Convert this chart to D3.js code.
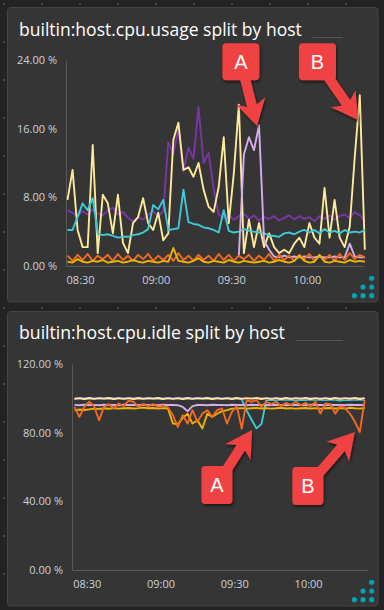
<!DOCTYPE html>
<html>
<head>
<meta charset="utf-8">
<script src="https://cdn.jsdelivr.net/npm/d3@7"></script>
<style>
  body { margin: 0; background: #232323; }
  svg { display: block; }
  text { font-family: "Open Sans", sans-serif; }
</style>
</head>
<body>
<svg width="384" height="610"></svg>
<script>
// one sample every 2 minutes, 08:25 -> 10:23
var times = d3.range(60).map(i => new Date(2020, 0, 1, 8, 25 + 2 * i))

var usageTitle = "builtin:host.cpu.usage split by host"
var idleTitle = "builtin:host.cpu.idle split by host"
var usageTicks = [0, 8, 16, 24]
var idleTicks = [0, 40, 80, 120]

// host.cpu.usage (%)
var usagePurple = [6.5, 6.2, 5.8, 6.4, 6.0, 6.6, 6.1, 5.9, 6.5, 6.8, 6.0, 6.3, 5.6, 5.2, 5.7, 5.4, 6.0, 6.4, 5.8, 6.4,
                   14.4, 13.0, 16.0, 11.0, 13.8, 12.5, 18.5, 12.0, 13.2, 9.0,
                   6.0, 5.6, 5.9, 5.4, 5.8, 6.1, 5.5, 5.9, 5.3, 5.7, 5.5, 5.8, 5.3, 5.6, 5.9, 5.4, 5.8, 5.5, 5.7, 5.2,
                   5.8, 5.5, 5.9, 5.4, 5.8, 6.0, 5.6, 6.3, 5.9, 5.2]
var usageYellow = [7.7, 11.2, 4.2, 2.2, 2.2, 14.1, 1.5, 8.3, 7.3, 3.8, 8.3, 2.7, 1.5, 5.0, 5.7, 7.9, 5.0, 4.2, 6.2, 3.0,
                   3.8, 14.7, 16.7, 11.2, 11.5, 10.4, 12.0, 8.9, 6.9, 6.3, 9.2, 15.0, 5.0, 10.8, 18.8, 1.5, 5.4, 2.2, 5.0, 2.2,
                   3.8, 2.2, 1.5, 1.9, 1.5, 2.6, 3.3, 2.2, 5.0, 3.3, 2.6, 9.1, 3.3, 7.7, 3.3, 2.2, 4.6, 12.7, 19.9, 1.9]
var usageCyan = [4.2, 4.2, 5.7, 7.3, 6.5, 7.9, 3.8, 3.6, 3.7, 3.5, 3.3, 3.4, 3.4, 3.6, 3.7, 3.9, 4.3, 7.1, 6.6, 7.7,
                 4.2, 4.3, 4.4, 8.9, 5.1, 4.9, 4.8, 4.5, 4.4, 4.2, 3.9, 6.5, 4.1, 3.9, 4.0, 4.3, 4.1, 4.0, 3.9, 3.8,
                 3.6, 3.5, 3.4, 3.8, 3.9, 3.7, 4.0, 4.2, 3.9, 4.2, 3.8, 4.3, 3.9, 4.1, 3.8, 4.2, 3.9, 4.0, 3.9, 4.2]
var usageLavender = [null, null, null, null, null, null, null, null, null, null,
                     null, null, null, null, null, null, null, null, null, null,
                     null, null, null, null, null, null, null, null, null, null,
                     null, null, null, null, 1.2, 13.0, 15.0, 13.5, 16.4, 3.0,
                     1.9, 1.1, 1.0, 1.2, 1.0, 1.1, 1.0, 1.1, 1.0, 1.0, 1.1, 1.0, 1.0, 1.1, 1.0, 1.0, 2.6, 1.1, 1.0, 1.0]
var usageOrange = [1.2, 0.6, 1.3, 0.7, 1.4, 0.6, 1.2, 0.8, 1.3, 0.6, 1.4, 0.7, 1.2, 0.6, 1.3, 0.8, 1.4, 0.6, 1.2, 0.7,
                   1.3, 0.6, 1.5, 0.7, 1.2, 0.6, 1.3, 0.7, 1.2, 0.6, 1.4, 0.7, 1.3, 0.6, 1.2, 0.8, 1.3, 0.6, 1.2, 0.7,
                   1.4, 0.6, 1.3, 0.7, 1.2, 0.6, 1.3, 0.8, 1.4, 0.6, 1.2, 0.7, 1.3, 0.6, 1.4, 0.7, 1.5, 0.8, 1.3, 1.0]
var usageGold = [0.5, 0.4, 0.8, 0.5, 0.4, 0.6, 0.5, 0.7, 0.4, 0.5, 0.6, 0.4, 0.5, 0.7, 0.5, 0.4, 0.6, 0.5, 0.4, 0.6,
                 0.5, 2.1, 0.6, 0.5, 0.4, 0.6, 0.9, 0.5, 0.4, 0.6, 0.5, 0.4, 0.7, 0.5, 0.4, 0.6, 0.5, 0.4, 0.5, 0.6,
                 0.4, 0.5, 0.7, 0.5, 0.4, 0.6, 1.2, 0.6, 0.4, 0.5, 1.3, 0.5, 0.4, 0.6, 0.5, 0.4, 0.7, 0.5, 0.6, 0.5]

// host.cpu.idle (%)
var idleCyan = [99.9, 99.9, 99.9, 99.9, 99.9, 99.9, 99.9, 99.9, 99.9, 99.9,
                99.9, 99.9, 99.9, 99.9, 99.9, 99.9, 99.9, 99.9, 99.9, 99.9,
                99.9, 99.9, 99.9, 99.9, 99.9, 99.9, 99.9, 99.9, 99.9, 99.9,
                99.9, 99.9, 99.9, 99.9, 99.4, 93.0, 87.5, 82.5, 85.0, 99.0,
                99.2, 99.0, 99.3, 99.1, 99.2, 98.9, 99.2, 99.0, 99.3, 99.1, 99.2, 99.0, 99.3, 99.1, 98.7, 99.2, 99.0, 99.3, 99.1, 99.2]
var idleLavender = [96.2, 96.0, 96.3, 96.1, 96.2, 96.0, 96.3, 96.1, 96.2, 96.0, 96.3, 96.1, 96.2, 96.0, 96.3, 96.1, 96.2, 96.0, 96.3, 96.1,
                    96.2, 96.0, 95.0, 92.5, 95.5, 96.1, 96.2, 96.0, 96.3, 96.1, 96.2, 96.0, 96.3, 96.1, 96.2, 96.0, 96.3, 96.1, 96.2, 96.0,
                    96.3, 96.1, 96.2, 96.0, 96.3, 96.1, 96.2, 96.0, 96.3, 96.1, 96.2, 96.0, 96.3, 96.1, 96.2, 96.0, 96.3, 96.1, 96.2, 96.0]
var idlePurple = [100.2, 99.6, 100.3, 99.7, 100.2, 99.6, 100.1, 99.7, 100.3, 99.6, 100.2, 99.6, 100.3, 99.7, 100.2, 99.6, 100.1, 99.7, 100.3, 99.6,
                  100.2, 99.6, 100.3, 99.7, 100.2, 99.6, 100.1, 99.7, 100.3, 99.6, 100.2, 99.6, 100.3, 99.7, 100.2, 99.6, 100.1, 99.7, 100.3, 99.6,
                  100.2, 99.6, 100.3, 99.7, 100.2, 99.6, 100.1, 99.7, 100.3, 99.6, 100.2, 99.6, 100.3, 99.7, 100.2, 99.6, 100.1, 99.7, 100.3, 99.6]
var idleYellow = [99.7, 100.1, 99.6, 100.2, 99.7, 100.1, 99.8, 100.2, 99.6, 100.1, 99.7, 100.1, 99.6, 100.2, 99.7, 100.1, 99.8, 100.2, 99.6, 100.1,
                  99.7, 100.1, 99.6, 100.2, 99.7, 100.1, 99.8, 100.2, 99.6, 100.1, 99.7, 100.1, 99.6, 100.2, 99.7, 100.1, 99.8, 100.2, 99.6, 100.1,
                  99.7, 100.1, 99.6, 100.2, 99.7, 100.1, 99.8, 100.2, 99.6, 100.1, 99.7, 100.1, 99.6, 100.2, 99.7, 100.1, 99.8, 100.2, 99.6, 100.1]
var idleGold = [93.0, 93.5, 93.2, 93.6, 94.0, 93.8, 94.2, 93.9, 94.3, 94.0, 94.2, 94.4, 94.1, 94.3, 94.6, 94.2, 94.4, 94.0, 94.3, 94.1,
                85.3, 85.0, 88.5, 91.0, 85.3, 87.2, 82.4, 91.0, 89.2, 91.0, 92.5, 93.1, 94.0,
                94.1, 94.3, 94.0, 94.2, 94.4, 94.1, 94.3, 94.0, 94.2, 94.5, 94.1, 94.3, 94.0, 94.2, 94.4, 94.1, 94.3, 94.0, 94.2, 94.4,
                94.1, 94.3, 94.0, 94.5, 94.2, 94.0, 94.4]
var idleOrange = [95.0, 89.2, 95.0, 98.0, 95.4, 87.2, 95.0, 96.6, 94.1, 97.0, 95.4, 98.6, 98.0, 95.0, 96.6, 95.4, 96.6, 95.0, 95.8, 94.6,
                  90.2, 83.3, 90.2, 85.3, 93.1, 86.3, 91.1, 93.1, 89.2, 93.1, 94.1, 85.3, 92.1, 95.4, 82.4, 99.0, 98.0, 99.0, 95.0, 98.0,
                  96.6, 98.0, 95.4, 97.4, 96.0, 98.0, 96.0, 97.4, 95.4, 98.0, 91.1, 97.0, 96.6, 91.1, 95.4, 94.1, 91.1, 86.3, 80.4, 99.0]

// callouts: box centre and arrow tip in chart units
var usageNotes = [
    {label: "A", box: [new Date(2020, 0, 1, 9, 33, 48), 23.8], tip: [new Date(2020, 0, 1, 9, 40, 12), 16.3]},
    {label: "B", box: [new Date(2020, 0, 1, 10, 4, 12), 23.8], tip: [new Date(2020, 0, 1, 10, 20, 18), 17.0]}
]
var idleNotes = [
    {label: "A", box: [new Date(2020, 0, 1, 9, 22, 54), 49.5], tip: [new Date(2020, 0, 1, 9, 37, 12), 81.5]},
    {label: "B", box: [new Date(2020, 0, 1, 9, 59, 54), 48.9], tip: [new Date(2020, 0, 1, 10, 19, 0), 80.4]}
]

var colors = {
    purple: "#7a35a6", yellow: "#fde99a", cyan: "#3fc9d7",
    lavender: "#d3aeea", orange: "#f26a22", gold: "#f0b400"
}

var charts = [
    {
        title: usageTitle, ticks: usageTicks, notes: usageNotes,
        card: {y: 7.5, h: 294.5}, titleY: 36, titleW: 283,
        x: d3.scaleTime().domain([new Date(2020, 0, 1, 8, 24, 24), new Date(2020, 0, 1, 10, 22, 40)]).range([66, 364]),
        y: d3.scaleLinear().domain([0, 24]).range([266, 60]),
        boxW: 37, boxH: 37, iconY: 278.3,
        series: [
            {values: usagePurple, color: colors.purple},
            {values: usageYellow, color: colors.yellow},
            {values: usageCyan, color: colors.cyan},
            {values: usageLavender, color: colors.lavender},
            {values: usageOrange, color: colors.orange},
            {values: usageGold, color: colors.gold}
        ]
    },
    {
        title: idleTitle, ticks: idleTicks, notes: idleNotes,
        card: {y: 311.5, h: 294.5}, titleY: 339, titleW: 266,
        x: d3.scaleTime().domain([new Date(2020, 0, 1, 8, 24, 0), new Date(2020, 0, 1, 10, 24, 20)]).range([72, 368]),
        y: d3.scaleLinear().domain([0, 120]).range([570, 364]),
        boxW: 31, boxH: 38, iconY: 582.3,
        series: [
            {values: idleCyan, color: colors.cyan},
            {values: idleLavender, color: colors.lavender},
            {values: idlePurple, color: colors.purple},
            {values: idleYellow, color: colors.yellow},
            {values: idleGold, color: colors.gold},
            {values: idleOrange, color: colors.orange}
        ]
    }
]

var svg = d3.select("svg")

var defs = svg.append("defs")
var shadow = defs.append("filter").attr("id", "shadow")
                 .attr("x", "-30%").attr("y", "-30%").attr("width", "160%").attr("height", "160%")
shadow.append("feDropShadow").attr("dx", 1).attr("dy", 2).attr("stdDeviation", 1.5)
      .attr("flood-color", "#000").attr("flood-opacity", 0.55)

// dotted dashboard background
var bgDots = svg.append("g")
d3.range(4, 384, 38).forEach(gx => {
    d3.range(4, 610, 38).forEach(gy => {
        bgDots.append("rect").attr("x", gx - 1).attr("y", gy - 1)
              .attr("width", 2).attr("height", 2).attr("fill", "#474747")
    })
})

charts.forEach(c => {
    // tile
    svg.append("rect")
       .attr("x", 7.5).attr("y", c.card.y)
       .attr("width", 370.5).attr("height", c.card.h)
       .attr("rx", 3)
       .attr("fill", "#353535")
       .attr("stroke", "#444")

    var title = svg.append("text")
                   .attr("x", 19).attr("y", c.titleY)
                   .attr("fill", "#ffffff")
                   .style("font-size", "16px")
                   .text(c.title)
    // size the title so it spans the same width as in the dashboard
    var tw = title.node().getComputedTextLength()
    title.style("font-size", (16 * c.titleW / tw).toFixed(2) + "px")
    tw = title.node().getComputedTextLength()
    svg.append("line")
       .attr("x1", 19 + tw + 11).attr("x2", 343)
       .attr("y1", c.titleY + 1.5).attr("y2", c.titleY + 1.5)
       .attr("stroke", "#555").attr("stroke-width", 1)

    // axes
    var yAxis = d3.axisLeft(c.y)
                  .tickValues(c.ticks)
                  .tickSize(0).tickPadding(9)
                  .tickFormat(v => d3.format(".2f")(v) + " %")
    var gy = svg.append("g")
                .attr("transform", "translate(" + c.x.range()[0] + ",0)")
                .call(yAxis)

    var xAxis = d3.axisBottom(c.x)
                  .ticks(d3.timeMinute.every(30))
                  .tickSize(0).tickPadding(10)
                  .tickFormat(d3.timeFormat("%H:%M"))
    var gx = svg.append("g")
                .attr("transform", "translate(0," + c.y.range()[0] + ")")
                .call(xAxis)

    ;[gx, gy].forEach(g => {
        g.select(".domain").attr("stroke", "#5a5a5a")
        g.selectAll("text")
         .attr("fill", "#c9d2dc")
         .style("font-size", "11px")
         .style("font-family", "'Open Sans', sans-serif")
    })

    // series
    var line = d3.line()
                 .defined(d => d[1] != null)
                 .x(d => c.x(d[0]))
                 .y(d => c.y(d[1]))

    svg.append("g")
       .selectAll("path")
       .data(c.series)
       .enter()
       .append("path")
       .attr("d", s => line(times.map((t, i) => [t, s.values[i]])))
       .attr("fill", "none")
       .attr("stroke", s => s.color)
       .attr("stroke-width", 1.9)
       .attr("stroke-linejoin", "round")

    // teal menu dots in the tile corner
    var icon = [[2, 0], [1, 1], [2, 1], [0, 2], [1, 2], [2, 2]]
    svg.append("g")
       .selectAll("circle")
       .data(icon)
       .enter()
       .append("circle")
       .attr("cx", d => 354.3 + d[0] * 8.7)
       .attr("cy", d => c.iconY + d[1] * 8.7)
       .attr("r", 2.6)
       .attr("fill", "#00a3b4")

    // red callouts
    c.notes.forEach(n => {
        var bx = c.x(n.box[0]), by = c.y(n.box[1])
        var tx = c.x(n.tip[0]), ty = c.y(n.tip[1])
        var dx = tx - bx, dy = ty - by
        var len = Math.sqrt(dx * dx + dy * dy)
        var ux = dx / len, uy = dy / len
        var nx = -uy, ny = ux
        var head = 26, half = 15, shaft = 5
        var baseX = tx - ux * head, baseY = ty - uy * head
        var joinX = baseX + ux * 5, joinY = baseY + uy * 5
        var pts = [
            [bx + nx * shaft, by + ny * shaft],
            [joinX + nx * shaft, joinY + ny * shaft],
            [baseX + nx * half, baseY + ny * half],
            [tx, ty],
            [baseX - nx * half, baseY - ny * half],
            [joinX - nx * shaft, joinY - ny * shaft],
            [bx - nx * shaft, by - ny * shaft]
        ]
        var g = svg.append("g").attr("filter", "url(#shadow)")
        g.append("path")
         .attr("d", "M" + pts.map(p => p.join(",")).join("L") + "Z")
         .attr("fill", "#f04242")
        g.append("rect")
         .attr("x", bx - c.boxW / 2).attr("y", by - c.boxH / 2)
         .attr("width", c.boxW).attr("height", c.boxH)
         .attr("rx", 4)
         .attr("fill", "#f04242")
        svg.append("text")
           .attr("x", bx).attr("y", by + 7)
           .attr("text-anchor", "middle")
           .attr("fill", "#ffffff")
           .style("font-family", "'Liberation Sans', Arial, sans-serif")
           .style("font-size", "20px")
           .text(n.label)
    })
})
</script>
</body>
</html>
